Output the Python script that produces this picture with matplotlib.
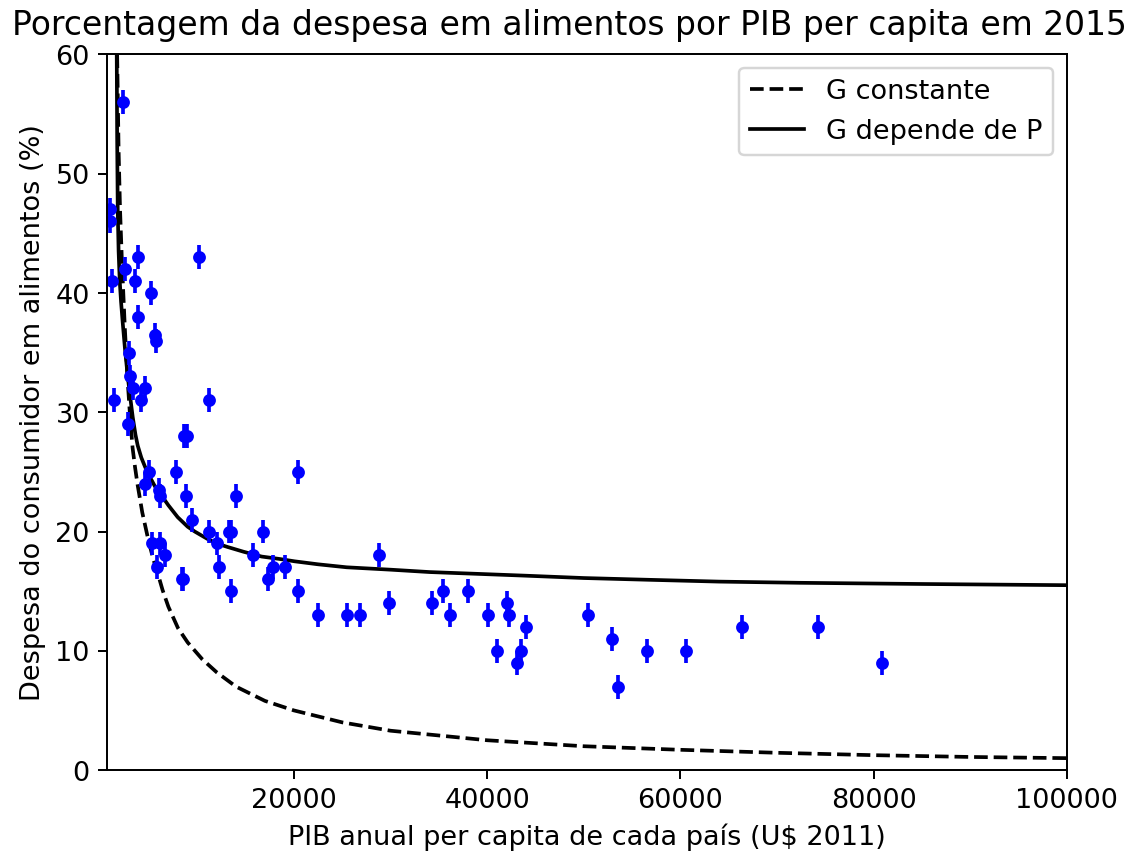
import matplotlib
matplotlib.use('Agg')
import matplotlib.pyplot as plt

plt.rcParams['font.size'] = 11

# pontos observados: PIB per capita (U$ 2011) e % da despesa em alimentos
pib = [2280, 920, 980, 1140, 2480, 3830, 3520, 5175, 3830, 10140,
       5600, 5750, 2900, 3000, 3310, 4550, 4140, 1345, 2800, 8600,
       8900, 11180, 20400, 8800, 13970, 9420, 11180, 13250, 13500, 16770,
       12000, 15730, 8490, 12210, 17280, 17800, 19040, 28770, 13460, 20390,
       22460, 25460, 26800, 29800, 34260, 35400, 36200, 38000, 40050, 42020,
       42230, 44000, 41000, 43470, 43050, 50400, 52900, 53500, 56500, 60550,
       66340, 74300, 80900, 4970, 4550, 6000, 6100, 7760, 5280, 6100,
       6620, 5800, 8380]
despesa = [56, 47, 46, 41, 42, 43, 41, 40, 38, 43,
           36.5, 36, 35, 33, 32, 32, 31, 31, 29, 28,
           28, 31, 25, 23, 23, 21, 20, 20, 20, 20,
           19, 18, 16, 17, 16, 17, 17, 18, 15, 15,
           13, 13, 13, 14, 14, 15, 13, 15, 13, 14,
           13, 12, 10, 10, 9, 13, 11, 7, 10, 10,
           12, 12, 9, 25, 24, 23.5, 23, 25, 19, 19,
           18, 17, 16]
erro = [1] * len(pib)

# curva "G constante"
x_const = [1700, 1850, 2000, 2200, 2500, 2800, 3050, 3300, 3550, 3800,
           4300, 4900, 5400, 5900, 6400, 7000, 8000, 9000, 10500, 12000,
           14000, 17000, 20000, 25000, 30000, 40000, 50000, 60000, 70000, 80000,
           90000, 100000]
y_const = [60, 52, 47, 42.5, 37, 32.5, 29.5, 27, 25.4, 24,
           21.6, 19.4, 17.8, 16.5, 15.1, 13.7, 11.9, 10.7, 9.3, 8.2,
           7.0, 5.8, 5.0, 4.0, 3.3, 2.5, 2.0, 1.7, 1.45, 1.25,
           1.1, 1.0]

# curva "G depende de P"
x_dep = [1656, 1700, 1760, 1850, 1967, 2100, 2277, 2500, 2795, 3000,
         3312, 3600, 3830, 4200, 4600, 5070, 5600, 6310, 7000, 7970,
         9000, 9730, 11000, 12000, 13140, 14800, 16660, 18500, 20080, 22500,
         25460, 30000, 34050, 39000, 43880, 50000, 56820, 64000, 72350, 85000,
         100000]
y_dep = [60, 53, 47, 43.5, 41, 39.3, 37.5, 35.4, 33, 31.6,
         29.6, 28.1, 27.2, 26.2, 25.4, 24.6, 23.8, 23.0, 22.2, 21.2,
         20.4, 20.0, 19.4, 19.0, 18.7, 18.3, 17.9, 17.7, 17.5, 17.25,
         17.0, 16.8, 16.6, 16.45, 16.3, 16.1, 15.95, 15.8, 15.7, 15.6,
         15.5]

fig = plt.figure(figsize=(6.4, 4.82), dpi=177.3)
ax = fig.add_axes([0.0943, 0.0982, 0.8458, 0.8375])

ax.plot(x_const, y_const, 'k--', label='G constante')
ax.plot(x_dep, y_dep, 'k-', label='G depende de P')
ax.errorbar(pib, despesa, yerr=erro, fmt='bo', markersize=4.2)

ax.set_xlim(650, 100000)
ax.set_ylim(0, 60)
ax.set_xticks([20000, 40000, 60000, 80000, 100000])
ax.set_xlabel('PIB anual per capita de cada país (U$ 2011)')
ax.set_ylabel('Despesa do consumidor em alimentos (%)')
fig.text(0.502, 0.99, 'Porcentagem da despesa em alimentos por PIB per capita em 2015',
         ha='center', va='top', fontsize=13.4)
ax.legend(loc='upper right')

fig.savefig('out.png', dpi=177.3)
